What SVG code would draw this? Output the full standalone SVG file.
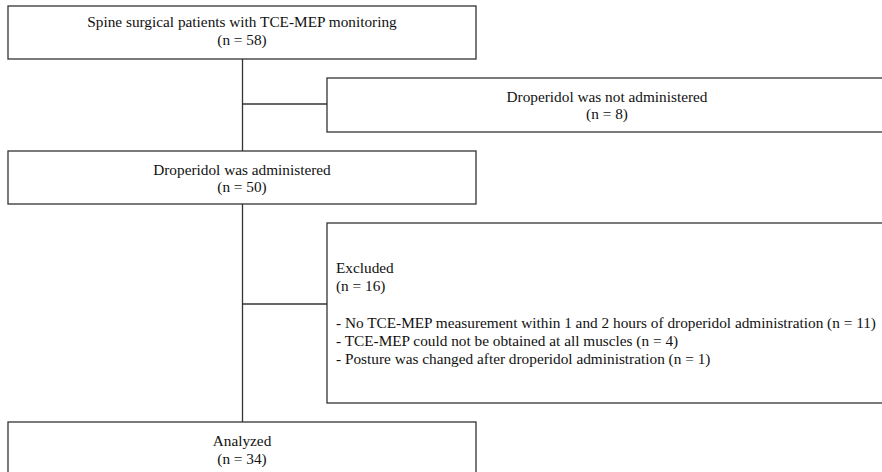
<svg xmlns="http://www.w3.org/2000/svg" width="882" height="472" viewBox="0 0 882 472">
<style>
.box{fill:#fff;stroke:#333;stroke-width:1.3}
.ln{fill:none;stroke:#333;stroke-width:1.3}
text{font-family:"Liberation Serif","Times New Roman",serif;font-size:15.3px;fill:#111}
.c{text-anchor:middle}
</style>
<rect width="882" height="472" fill="#fff"/>
<g id="connectors">
<line class="ln" x1="242.5" y1="59" x2="242.5" y2="151"/>
<line class="ln" x1="242.5" y1="104" x2="327" y2="104"/>
<line class="ln" x1="242.5" y1="204" x2="242.5" y2="422"/>
<line class="ln" x1="242.5" y1="304" x2="327" y2="304"/>
</g>
<g id="n1">
<rect class="box" x="8" y="6" width="468" height="53"/>
<text class="c" x="242" y="27">Spine surgical patients with TCE-MEP monitoring</text>
<text class="c" x="242" y="45">(n = 58)</text>
</g>
<g id="n2">
<rect class="box" x="327" y="78" width="560" height="54"/>
<text class="c" x="607" y="102">Droperidol was not administered</text>
<text class="c" x="607" y="119">(n = 8)</text>
</g>
<g id="n3">
<rect class="box" x="8" y="151" width="468" height="53"/>
<text class="c" x="242" y="175">Droperidol was administered</text>
<text class="c" x="242" y="192">(n = 50)</text>
</g>
<g id="n4">
<rect class="box" x="327" y="223" width="560" height="180"/>
<text x="336" y="273">Excluded</text>
<text x="336" y="291">(n = 16)</text>
<text x="336" y="328">- No TCE-MEP measurement within 1 and 2 hours of droperidol administration (n = 11)</text>
<text x="336" y="346">- TCE-MEP could not be obtained at all muscles (n = 4)</text>
<text x="336" y="364">- Posture was changed after droperidol administration (n = 1)</text>
</g>
<g id="n5">
<rect class="box" x="8" y="422" width="468" height="60"/>
<text class="c" x="242" y="446">Analyzed</text>
<text class="c" x="242" y="464">(n = 34)</text>
</g>
</svg>
